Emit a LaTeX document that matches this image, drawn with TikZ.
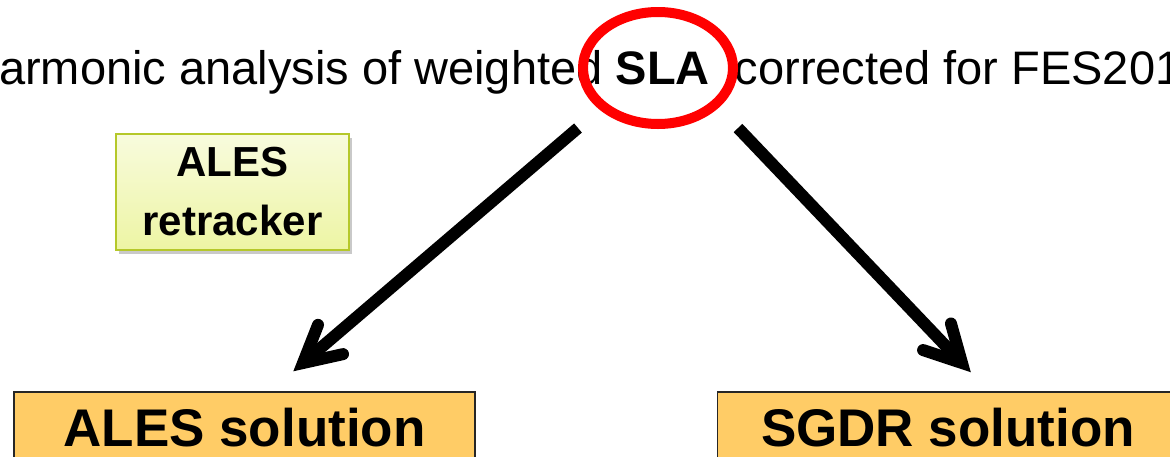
\documentclass[tikz,border=0pt]{standalone}
\usepackage{fontspec}
\setmainfont{Liberation Sans}
\usetikzlibrary{shapes.geometric,shadows,calc}
\definecolor{slared}{HTML}{FF0000}
\definecolor{tagborder}{HTML}{B5C82A}
\definecolor{tagtop}{HTML}{F8FBDD}
\definecolor{tagbottom}{HTML}{EDF5A4}
\definecolor{solfill}{HTML}{FFCC66}
\begin{document}
\begin{tikzpicture}[x=1pt,y=-1pt,
  titletext/.style={anchor=base west, inner sep=0pt, font=\fontsize{47}{56}\selectfont},
  redring/.style={draw=slared, ellipse, line width=10pt, minimum width=150pt, minimum height=112pt, inner sep=0pt},
  tagbox/.style={draw=tagborder, line width=1.6pt, top color=tagtop, bottom color=tagbottom,
    minimum width=233pt, minimum height=116pt, inner sep=0pt, align=center,
    font=\bfseries\fontsize{42}{59}\selectfont,
    drop shadow={shadow xshift=3pt, shadow yshift=-4pt, opacity=0.35, fill=black!60}},
  solbox/.style={draw=black!85, line width=1.6pt, fill=solfill, minimum width=461pt,
    minimum height=72pt, inner sep=0pt, font=\bfseries\fontsize{53}{60}\selectfont},
  bigshaft/.style={line width=12pt},
  barbs/.style={line width=12pt, line cap=round, line join=miter}
]
\path[use as bounding box, clip] (0,0) rectangle (1170,456);
\fill[white] (0,0) rectangle (1170,456);

\node[titletext] (title) at (-1,84) {armonic analysis of weighted \textbf{SLA}\hspace{25pt}corrected for FES201};
\node[redring] (sla) at (658,68) {};

\node[tagbox] (tracker) at (232.5,192) {ALES\\retracker};

\node[solbox] (ales) at (244.5,428) {ALES solution};
\node[solbox] (sgdr) at (948,428) {SGDR solution};

\coordinate (la) at (578,128);
\coordinate (lt) at (303,363);
\coordinate (ra) at (738,128);
\coordinate (rt) at (962,363);

\draw[bigshaft] (la) -- (lt);
\draw[barbs] ($(lt)!41pt!28:(la)$) -- (lt) -- ($(lt)!41pt!-28:(la)$);
\draw[bigshaft] (ra) -- (rt);
\draw[barbs] ($(rt)!41pt!28:(ra)$) -- (rt) -- ($(rt)!41pt!-28:(ra)$);
\end{tikzpicture}
\end{document}
